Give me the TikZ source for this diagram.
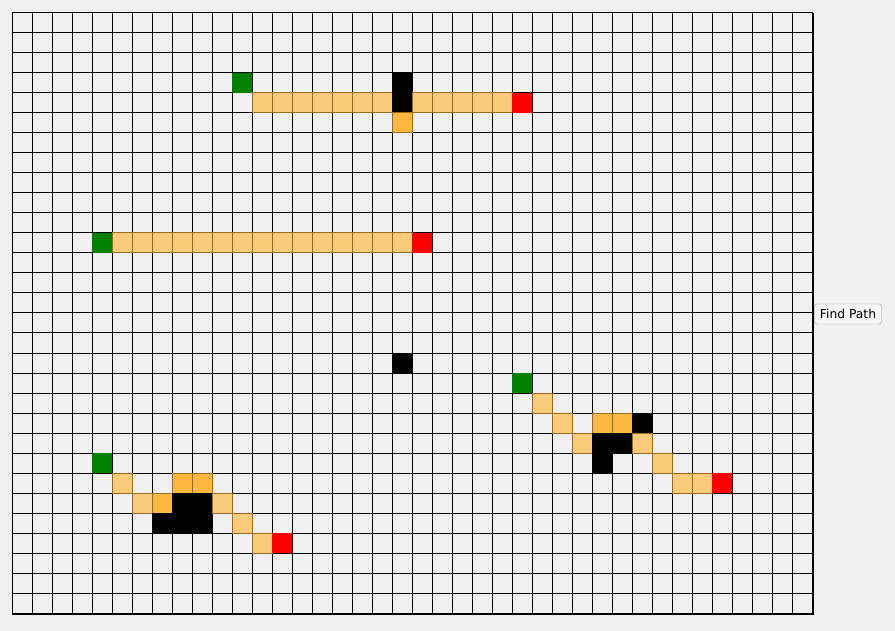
\documentclass[tikz,border=0pt]{standalone}
\usepackage{fontspec}
\setmainfont{DejaVu Sans}
\definecolor{panel}{HTML}{F0F0F0}
\definecolor{pathcell}{HTML}{F8CC7A}
\definecolor{opencell}{HTML}{FCB83E}
\definecolor{celledge}{HTML}{9A6A1E}
\definecolor{startcell}{HTML}{008000}
\definecolor{goalcell}{HTML}{FF0000}
\definecolor{btnedge}{HTML}{9A9AA6}
\definecolor{btnfill}{HTML}{F6F6F6}
\newcommand{\mazecell}[3]{\path[#1] ({12+20*#2},{13+20*#3}) rectangle ++(20,20);}
\begin{document}
\begin{tikzpicture}[x=1pt,y=-1pt,
  gridline/.style={line width=1pt,black},
  wallcell/.style={fill=black},
  startbox/.style={fill=startcell},
  goalbox/.style={fill=goalcell},
  visited/.style={fill=pathcell,draw=celledge,line width=1pt},
  frontier/.style={fill=opencell,draw=celledge,line width=1pt},
  findbtn/.style={draw=btnedge,fill=btnfill,rounded corners=2.5pt,
    minimum width=67pt,minimum height=20pt,inner sep=0pt,
    font=\fontsize{12.3}{14}\selectfont}]
\fill[panel] (0,0) rectangle (895,631);
% grid
\foreach \i in {0,...,40}
  \draw[gridline] ({12+20*\i},13) -- ({12+20*\i},613);
\foreach \j in {0,...,30}
  \draw[gridline] (12,{13+20*\j}) -- (813,{13+20*\j});
\draw[line width=2pt] (813,13) -- (813,614) -- (12,614);
% top search
\mazecell{startbox}{11}{3}
\foreach \col in {12,13,14,15,16,17,18,20,21,22,23,24}
  {\mazecell{visited}{\col}{4}}
\mazecell{wallcell}{19}{3}
\mazecell{wallcell}{19}{4}
\mazecell{frontier}{19}{5}
\mazecell{goalbox}{25}{4}
% middle search
\mazecell{startbox}{4}{11}
\foreach \col in {5,...,19}
  {\mazecell{visited}{\col}{11}}
\mazecell{goalbox}{20}{11}
\mazecell{wallcell}{19}{17}
% right search
\mazecell{startbox}{25}{18}
\foreach \col/\row in {26/19,27/20,28/21,31/21,32/22,33/23,34/23}
  {\mazecell{visited}{\col}{\row}}
\foreach \col/\row in {29/20,30/20}
  {\mazecell{frontier}{\col}{\row}}
\foreach \col/\row in {31/20,29/21,30/21,29/22}
  {\mazecell{wallcell}{\col}{\row}}
\mazecell{goalbox}{35}{23}
% bottom left search
\mazecell{startbox}{4}{22}
\foreach \col/\row in {5/23,6/24,10/24,11/25,12/26}
  {\mazecell{visited}{\col}{\row}}
\foreach \col/\row in {8/23,9/23,7/24}
  {\mazecell{frontier}{\col}{\row}}
\foreach \col/\row in {8/24,9/24,7/25,8/25,9/25}
  {\mazecell{wallcell}{\col}{\row}}
\mazecell{goalbox}{13}{26}
% button
\node[findbtn] (findpath) at (848,314) {Find Path};
\end{tikzpicture}
\end{document}
